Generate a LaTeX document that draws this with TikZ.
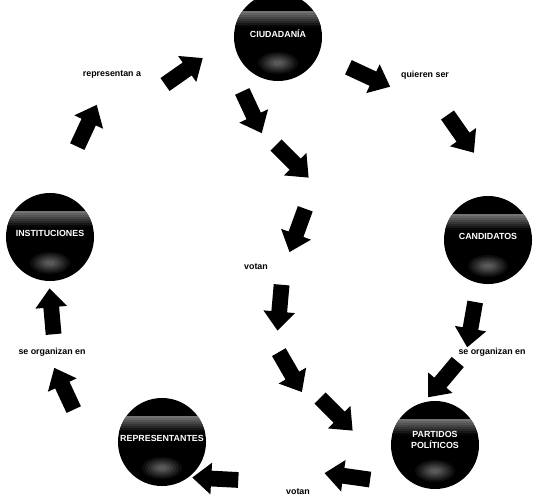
\documentclass[tikz,border=0pt]{standalone}
\usepackage{fontspec}
\setsansfont{Liberation Sans}
\usetikzlibrary{shapes.arrows}
\tikzset{
  ball/.style={circle,fill=black,minimum size=2.2cm,inner sep=0pt,
               path picture={
                 \begin{scope}[x=0.025cm,y=0.025cm]
                   \foreach \i in {0,...,7}{
                     \pgfmathtruncatemacro{\shadeval}{55+\i*6}
                     \fill[black!\shadeval] (-50,26-2*\i) rectangle (50,24-2*\i);
                   }
                   \foreach \i in {0,...,5}{
                     \pgfmathtruncatemacro{\shadeval}{95-6*\i}
                     \fill[black!\shadeval] (0,-26) ellipse ({20-3*\i} and {11-1.7*\i});
                   }
                 \end{scope}}},
  balllabel/.style={text=white,align=center,yshift=2.5pt,inner sep=0pt,
                    font=\sffamily\bfseries\fontsize{6.3}{7.5}\selectfont},
  blob/.style={single arrow,fill=black,inner xsep=0pt,inner ysep=0.19cm,
               minimum height=1.15cm,
               single arrow head extend=0.2cm,single arrow tip angle=80},
  verb/.style={font=\sffamily\bfseries\fontsize{6.3}{7}\selectfont}
}
\begin{document}
\begin{tikzpicture}[x=0.025cm,y=-0.025cm]
  \useasboundingbox (0,0) rectangle (539,500);

  \node[ball,label={[balllabel,name=ciudtext]center:CIUDADANÍA}] (ciud) at (278,37) {};
  \node[ball,label={[balllabel,name=insttext]center:INSTITUCIONES}] (inst) at (50,237) {};
  \node[ball,label={[balllabel,name=candtext]center:CANDIDATOS}] (cand) at (488,240) {};
  \node[ball,label={[balllabel,name=reprtext]center:REPRESENTANTES}] (repr) at (162,442) {};
  \node[ball,label={[balllabel,name=parttext,yshift=1pt]center:PARTIDOS\\POLÍTICOS}] (part) at (435,445) {};

  \node[blob,rotate=-25] (a1) at (365,75) {};
  \node[blob,rotate=-55] (a2) at (458,130) {};
  \node[blob,rotate=-100] (a3) at (472,320) {};
  \node[blob,rotate=-130] (a4) at (446,376) {};
  \node[blob,rotate=172] (a5) at (352,477) {};
  \node[blob,rotate=177] (a6) at (220,479) {};
  \node[blob,rotate=115] (a7) at (66,393) {};
  \node[blob,rotate=95] (a8) at (52,316) {};
  \node[blob,rotate=65] (a9) at (85,130) {};
  \node[blob,rotate=35] (a10) at (180,74) {};

  \node[blob,rotate=-65] (m1) at (250,108) {};
  \node[blob,rotate=-45] (m2) at (289,158) {};
  \node[blob,rotate=-110] (m3) at (299,226) {};
  \node[blob,rotate=-95] (m4) at (280,303) {};
  \node[blob,rotate=-60] (m5) at (288,368) {};
  \node[blob,rotate=-45] (m6) at (333,411) {};

  \node[verb] (quieren) at (425,75) {quieren ser};
  \node[verb] (orgright) at (492,352) {se organizan en};
  \node[verb] (votbottom) at (298,492) {votan};
  \node[verb] (orgleft) at (52,352) {se organizan en};
  \node[verb] (repres) at (112,75) {representan a};
  \node[verb] (votmid) at (256,267) {votan};
\end{tikzpicture}
\end{document}
